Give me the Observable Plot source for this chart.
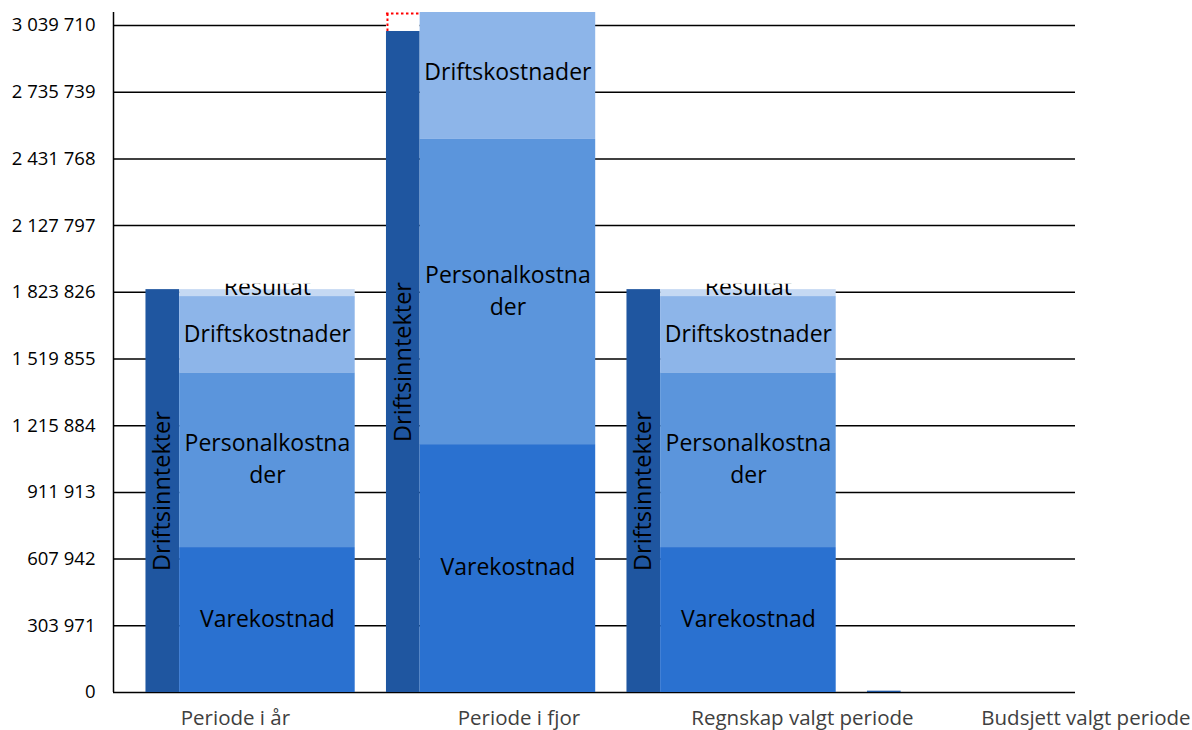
<!DOCTYPE html>
<html><head><meta charset="utf-8">
<script src="https://cdn.jsdelivr.net/npm/d3@7"></script>
<script src="https://cdn.jsdelivr.net/npm/@observablehq/plot@0.6"></script>
<style>body{margin:0;background:#fff;}</style>
</head><body><div id="chart"></div>
<script>
// ---- data ----
const categories = ["Periode i år", "Periode i fjor", "Regnskap valgt periode", "Budsjett valgt periode"];
const driftsinntekter   = [1836000, 3012400, 1836000, 6000];
const varekostnad       = [660500, 1129700, 660500, 0];
const personalkostnader = [796300, 1390700, 796300, 0];
const driftskostnader   = [347600, 601000, 347600, 0];
const resultat          = [31600, -109000, 31600, 0];
const segmentLabels = ["Varekostnad", "Personalkostna\nder", "Driftskostnader", "Resultat"];
const incomeLabel = "Driftsinntekter";
const yTicks = [0, 303971, 607942, 911913, 1215884, 1519855, 1823826, 2127797, 2431768, 2735739, 3039710];
const yMax = 3098930;

// ---- styles / layout ----
const segColors = ["#2a71d0", "#5b95dc", "#8db5e9", "#c5d9f3"];
const darkColor = "#1f56a0";
const DARK0 = 0.135, DARK1 = 0.275, STACK1 = 1.005, LABEL0 = 0.507, LABELSTEP = 1.1788;
const FONT = "Open Sans, Noto Sans, sans-serif";

const darkBars = categories.map((c, i) => ({i, x1: i + DARK0, x2: i + DARK1, y1: 0, y2: driftsinntekter[i]}));
const segs = [];
categories.forEach((c, i) => {
  const vals = [varekostnad[i], personalkostnader[i], driftskostnader[i], Math.max(0, resultat[i])];
  let acc = 0;
  vals.forEach((v, k) => {
    if (v > 0) segs.push({i, k, x1: i + DARK1, x2: i + STACK1, y1: acc, y2: acc + v,
      xm: i + (DARK1 + STACK1) / 2, ym: acc + v / 2, label: segmentLabels[k], color: segColors[k]});
    acc += v;
  });
});
const negRes = categories.map((c, i) => ({i, x1: i + DARK0, x2: i + DARK1,
  y1: driftsinntekter[i], y2: Math.min(driftsinntekter[i] - resultat[i], yMax)})).filter((d, i) => resultat[i] < 0);
const mainLabels = segs.filter(d => d.k < 3);
const resLabels = segs.filter(d => d.k === 3);
const incomeLabels = darkBars.filter(d => d.y2 > 100000).map(d => ({x: (d.x1 + d.x2) / 2, y: d.y2 / 2}));
const catLabels = categories.map((c, i) => ({x: LABEL0 + i * LABELSTEP, label: c}));
const fmt = v => d3.format(",")(v).replace(/,/g, " ");

const plot = Plot.plot({
  width: 1192, height: 730,
  marginLeft: 113, marginRight: 117, marginTop: 12, marginBottom: 38,
  style: {fontFamily: FONT, background: "#fff"},
  x: {type: "linear", domain: [0, 4], axis: null},
  y: {domain: [0, yMax], axis: null},
  marks: [
    Plot.ruleY(yTicks, {stroke: "#000", strokeWidth: 1.5}),
    Plot.ruleX([0], {y1: 0, y2: yMax, stroke: "#000", strokeWidth: 1.5}),
    Plot.text(yTicks, {x: 0, y: d => d, text: d => fmt(d), textAnchor: "end", dx: -18, fontSize: 18.5, fill: "#000"}),
    Plot.rect(negRes, {x1: "x1", x2: "x2", y1: "y1", y2: "y2", fill: "#fff"}),
    Plot.ruleY(negRes, {x1: "x1", x2: "x2", y: "y2", stroke: "#ff0000", strokeWidth: 2, strokeDasharray: "2.5 2.5", dy: 1}),
    Plot.ruleX(negRes, {x: "x1", y1: "y1", y2: "y2", stroke: "#ff0000", strokeWidth: 2, strokeDasharray: "2.5 2.5", dx: 1}),
    Plot.rect(darkBars, {x1: "x1", x2: "x2", y1: "y1", y2: "y2", fill: darkColor, clip: true}),
    Plot.rect(segs, {x1: "x1", x2: "x2", y1: "y1", y2: "y2", fill: "color", clip: true}),
    Plot.text(mainLabels, {x: "xm", y: "ym", text: "label", fontSize: 23, lineHeight: 1.4, dy: -3.5, fill: "#000"}),
    Plot.text(resLabels, {x: "xm", y: "y2", text: "label", fontSize: 23, dy: -2, fill: "#000"}),
    Plot.text(incomeLabels, {x: "x", y: "y", text: () => incomeLabel, rotate: -90, fontSize: 23.5, fill: "#000"}),
    Plot.text(catLabels, {x: "x", y: 0, text: "label", dy: 26, fontSize: 20.5, fill: "#404040"})
  ]
});

// clip the "Resultat" labels just above their segment (as in the original rendering)
const ys = plot.scale("y");
const svg = d3.select(plot);
const defs = svg.insert("defs", ":first-child");
const resNodes = svg.selectAll("text").filter(function() { return this.textContent === "Resultat"; }).nodes();
resNodes.forEach((node, j) => {
  const top = ys.apply(resLabels[j].y2) - 4;
  const id = "resclip" + j;
  defs.append("clipPath").attr("id", id).attr("clipPathUnits", "userSpaceOnUse").append("rect")
    .attr("x", 0).attr("y", top).attr("width", 1192).attr("height", 730 - top);
  const wrap = document.createElementNS("http://www.w3.org/2000/svg", "g");
  wrap.setAttribute("clip-path", `url(#${id})`);
  node.parentNode.insertBefore(wrap, node);
  wrap.appendChild(node);
});
document.getElementById("chart").appendChild(plot);
</script>
</body></html>
